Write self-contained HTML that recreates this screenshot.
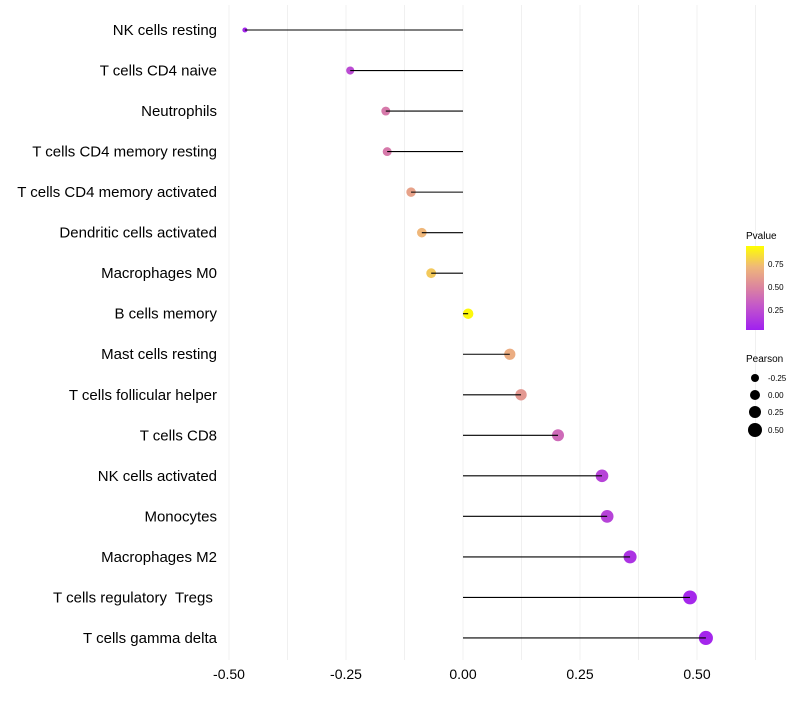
<!DOCTYPE html>
<html><head><meta charset="utf-8"><style>
body{margin:0;background:#fff;font-family:"Liberation Sans",sans-serif}
svg text{font-family:"Liberation Sans",sans-serif;white-space:pre}
</style></head><body>
<svg id="chart" width="800" height="700" xmlns="http://www.w3.org/2000/svg">
<g id="grid"></g>
<g id="marks"></g>
<g id="ylabels"></g>
<g id="xlabels"></g>
<g id="legend">
<defs><linearGradient id="pg" x1="0" y1="1" x2="0" y2="0">
<stop offset="0" stop-color="#A020F0"/><stop offset="0.3" stop-color="#C55AC8"/><stop offset="0.5" stop-color="#DB83A0"/><stop offset="0.75" stop-color="#EFB77A"/><stop offset="1" stop-color="#FFFF00"/></linearGradient></defs>
<text x="746" y="239" font-size="10">Pvalue</text>
<rect x="746" y="246" width="18" height="84" fill="url(#pg)"/>
<text x="768" y="267" font-size="8">0.75</text>
<text x="768" y="290" font-size="8">0.50</text>
<text x="768" y="313" font-size="8">0.25</text>
<text x="746" y="362" font-size="10">Pearson</text>
<circle cx="755" cy="378" r="4" fill="#000"/>
<circle cx="755" cy="395" r="5" fill="#000"/>
<circle cx="755" cy="412" r="6" fill="#000"/>
<circle cx="755" cy="430" r="7" fill="#000"/>
<text x="768" y="381" font-size="8">-0.25</text>
<text x="768" y="398" font-size="8">0.00</text>
<text x="768" y="415" font-size="8">0.25</text>
<text x="768" y="433" font-size="8">0.50</text>
</g>
</svg>
<script>
const categories=["NK cells resting","T cells CD4 naive","Neutrophils","T cells CD4 memory resting","T cells CD4 memory activated","Dendritic cells activated","Macrophages M0","B cells memory","Mast cells resting","T cells follicular helper","T cells CD8","NK cells activated","Monocytes","Macrophages M2","T cells regulatory  Tregs ","T cells gamma delta"];
const pearson=[-0.466,-0.241,-0.165,-0.162,-0.111,-0.088,-0.068,0.011,0.100,0.124,0.203,0.297,0.308,0.357,0.485,0.519];
const pvalues=[0.03,0.22,0.45,0.45,0.65,0.75,0.8,0.93,0.7,0.6,0.38,0.18,0.18,0.1,0.04,0.03];
const xTicks=[-0.5,-0.25,0,0.25,0.5];
const xTickLabels=["-0.50","-0.25","0.00","0.25","0.50"];
const xMinor=[-0.375,-0.125,0.125,0.375,0.625];
const NS="http://www.w3.org/2000/svg";
const x=v=>463+v*468;
const y=i=>30+i*40.53;
function mk(t,a,p){const e=document.createElementNS(NS,t);for(const k in a)e.setAttribute(k,a[k]);p.appendChild(e);return e;}
const stops=[[0,[160,32,240]],[0.3,[197,90,200]],[0.5,[219,131,160]],[0.75,[239,183,122]],[0.95,[255,255,0]]];
function col(p){for(let i=1;i<stops.length;i++){if(p<=stops[i][0]||i==stops.length-1){const a=stops[i-1],b=stops[i];let t=Math.max(0,Math.min(1,(p-a[0])/(b[0]-a[0])));return "rgb("+a[1].map((c,j)=>Math.round(c+(b[1][j]-c)*t)).join(",")+")";}}}
const grid=document.getElementById('grid'),marks=document.getElementById('marks'),yl=document.getElementById('ylabels'),xl=document.getElementById('xlabels');
xTicks.concat(xMinor).forEach(v=>{const l=mk('line',{x1:x(v),x2:x(v),y1:5,y2:660,stroke:'#f0f0f0','stroke-width':1},grid);

});
xTicks.forEach((v,i)=>{const t=mk('text',{x:x(v),y:679,'font-size':14,'text-anchor':'middle',fill:'#000'},xl);t.textContent=xTickLabels[i];

});
categories.forEach((c,i)=>{
const t=mk('text',{x:217,y:y(i)+5,'font-size':15,'text-anchor':'end',fill:'#000'},yl);t.textContent=c;


const r=Math.sqrt(Math.max(3,27+44*pearson[i]));
const ci=mk('circle',{cx:x(pearson[i]),cy:y(i),r:r,fill:col(pvalues[i])},marks);


const s=mk('line',{x1:x(0),x2:x(pearson[i]),y1:y(i),y2:y(i),stroke:'#000','stroke-width':1.1},marks);


});
</script>
</body></html>
